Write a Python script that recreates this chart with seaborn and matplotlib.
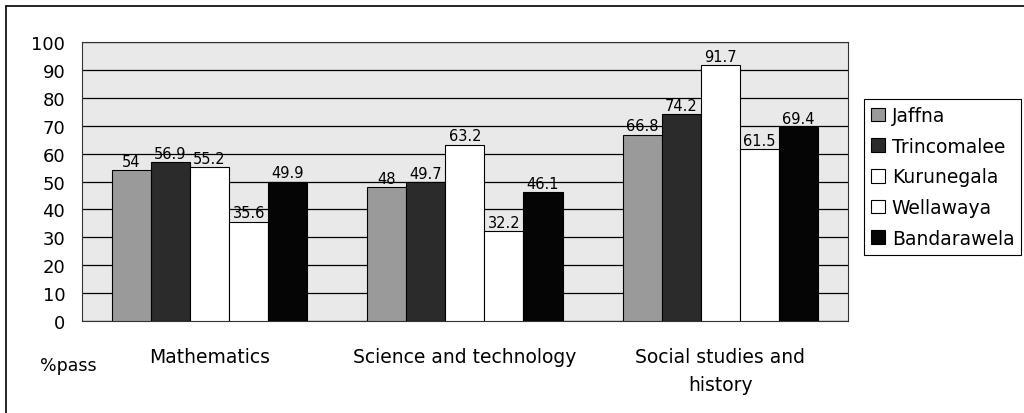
import numpy as np
import pandas as pd
import seaborn as sns
import matplotlib.pyplot as plt
from matplotlib.lines import Line2D

# ***************** data ************************
subjects = ['Mathematics', 'Science and technology', 'Social studies and\nhistory']
districts = ['Jaffna', 'Trincomalee', 'Kurunegala', 'Wellawaya', 'Bandarawela']

jaffna = [54, 48, 66.8]
trincomalee = [56.9, 49.7, 74.2]
kurunegala = [55.2, 63.2, 91.7]
wellawaya = [35.6, 32.2, 61.5]
bandarawela = [49.9, 46.1, 69.4]

yticks = [0, 10, 20, 30, 40, 50, 60, 70, 80, 90, 100]

colours = ['#9a9a9a', '#2b2b2b', '#ffffff', '#ffffff', '#050505']


def build_df():
    rows = []
    for name, vals in zip(districts, [jaffna, trincomalee, kurunegala, wellawaya, bandarawela]):
        for subj, v in zip(subjects, vals):
            rows.append({'subject': subj, 'district': name, 'pass': v})
    return pd.DataFrame(rows)


df = build_df()

sns.set_style('white')
plt.rcParams['font.family'] = ['DejaVu Sans']
plt.rcParams['text.color'] = 'black'
plt.rcParams['xtick.color'] = 'black'
plt.rcParams['ytick.color'] = 'black'

fig = plt.figure(figsize=(10.24, 4.14), dpi=100)
ax = fig.add_axes([0.080, 0.222, 0.748, 0.674])
ax.set_facecolor('#e9e9e9')

sns.barplot(data=df, x='subject', y='pass', hue='district', hue_order=districts,
            order=subjects, palette=colours, width=0.765, edgecolor='black',
            linewidth=0.8, saturation=1, ax=ax, zorder=3)

for c in ax.containers:
    ax.bar_label(c, fmt='{:g}', fontsize=10.5, padding=1, color='black')

ax.set_ylim(0, 100)
ax.set_yticks(yticks)
ax.set_yticklabels([str(t) for t in yticks], fontsize=13)
ax.yaxis.grid(True, color='black', linewidth=0.9, zorder=0)
ax.set_axisbelow(True)
ax.tick_params(axis='x', length=0, pad=19, labelsize=13.5, labelcolor='black')
for lab in ax.get_xticklabels():
    lab.set_linespacing(1.55)
ax.tick_params(axis='y', length=0, pad=12, labelcolor='black')
ax.set_xlabel('')
ax.set_ylabel('')
for s in ax.spines.values():
    s.set_color('#333333')
    s.set_linewidth(0.8)

leg = ax.legend(loc='upper left', bbox_to_anchor=(1.021, 0.796), fontsize=13.5,
                frameon=True, fancybox=False, framealpha=1, edgecolor='black',
                handlelength=0.75, handleheight=0.75, handletextpad=0.35,
                labelspacing=0.62, borderpad=0.38, borderaxespad=0)
leg.get_frame().set_linewidth(0.8)
for t in leg.get_texts():
    t.set_color('black')

fig.text(40 / 1024, 1 - 366 / 414, '%pass', fontsize=12.5, va='center', color='black')

# outer frame
fig.add_artist(Line2D([6 / 1024, 1], [1 - 7 / 414, 1 - 7 / 414], color='black', lw=1.2))
fig.add_artist(Line2D([6 / 1024, 6 / 1024], [0, 1 - 7 / 414], color='black', lw=1.2))

fig.savefig('out.png', dpi=100)
